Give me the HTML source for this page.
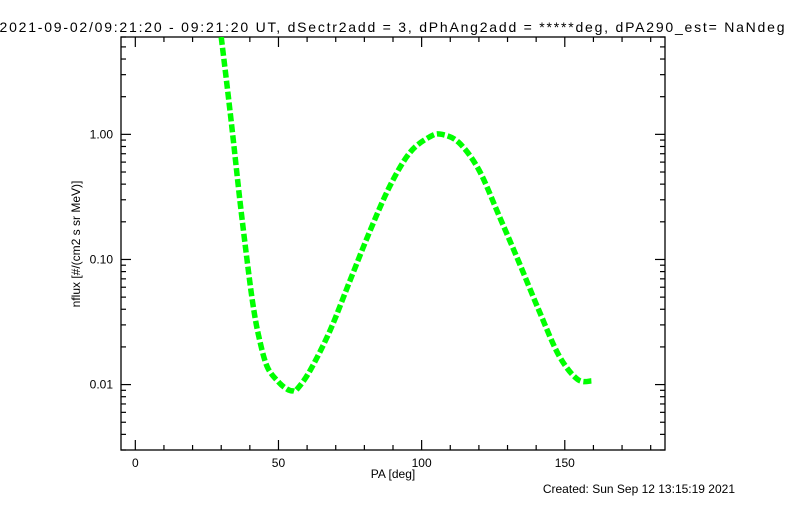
<!DOCTYPE html>
<html><head><meta charset="utf-8"><style>
body{margin:0;background:#fff;}
svg text{font-family:"Liberation Sans",sans-serif;fill:#000;}
</style></head><body>
<svg width="800" height="500" viewBox="0 0 800 500">
<text x="392" y="32" font-size="14" text-anchor="middle" textLength="785">2021-09-02/09:21:20 - 09:21:20 UT, dSectr2add = 3, dPhAng2add = *****deg, dPA290_est=  NaNdeg</text>
<rect x="121" y="37" width="544" height="413" fill="none" stroke="#000" stroke-width="1.3"/>
<g id="axes"></g>
<g id="series"></g>
<text x="393" y="478" font-size="12" text-anchor="middle">PA [deg]</text>
<text transform="translate(80,244) rotate(-90)" font-size="12" text-anchor="middle">nflux [#/(cm2 s sr MeV)]</text>
<text x="735" y="493" font-size="12" text-anchor="end">Created: Sun Sep 12 13:15:19 2021</text>
</svg>
<script>
const xTicks=[0,50,100,150];
const yTicks=[0.01,0.1,1];
const yTickLabels=["0.01","0.10","1.00"];
const paValues=[30,32,34,36.5,39,41,43,46,50,53,55,56.5,61,68,75,82,89,96,103,107,113,120,127,134,141,148,154.5,159.5];
const fluxValues=[6,2.5,1.0,0.30,0.10,0.045,0.025,0.014,0.0105,0.0092,0.0089,0.0092,0.0129,0.027,0.068,0.17,0.39,0.72,0.96,1.0,0.86,0.52,0.225,0.095,0.039,0.017,0.011,0.0107];
const L=121,R=665,T=37,B=450,X0=-5,X1=185,Y0=0.003,Y1=6;
const NS="http://www.w3.org/2000/svg";
function sx(v){return L+(v-X0)/(X1-X0)*(R-L);}
function sy(v){return B-(Math.log10(v)-Math.log10(Y0))/(Math.log10(Y1)-Math.log10(Y0))*(B-T);}
const ax=document.getElementById('axes');
function line(x1,y1,x2,y2,name){const l=document.createElementNS(NS,'line');
l.setAttribute('x1',x1);l.setAttribute('y1',y1);l.setAttribute('x2',x2);l.setAttribute('y2',y2);
l.setAttribute('stroke','#000');l.setAttribute('stroke-width','1.2');


ax.appendChild(l);}
for(let v=0;v<=180;v+=10){const x=sx(v);const len=(v%50===0)?10:5;
line(x,B,x,B-len,'x-tick');line(x,T,x,T+len,'x-tick');}
xTicks.forEach(v=>{const t=document.createElementNS(NS,'text');
t.setAttribute('x',sx(v));t.setAttribute('y',467);t.setAttribute('font-size','12');t.setAttribute('text-anchor','middle');


t.textContent=v;ax.appendChild(t);});
for(let d=-3;d<=0;d++){for(let m=1;m<=9;m++){const v=m*Math.pow(10,d);if(v<Y0||v>Y1)continue;
const y=sy(v);const len=m===1?10:5;line(L,y,L+len,y,'y-tick');line(R,y,R-len,y,'y-tick');}}
yTicks.forEach((v,i)=>{const t=document.createElementNS(NS,'text');
t.setAttribute('x',L-8);t.setAttribute('y',sy(v)+4);t.setAttribute('font-size','12');t.setAttribute('text-anchor','end');


t.textContent=yTickLabels[i];ax.appendChild(t);});
const p=document.createElementNS(NS,'path');
let d='';
for(let i=0;i<paValues.length;i++){const x=sx(paValues[i]),y=sy(fluxValues[i]);
if(i===0){d+='M'+x+','+y;}else{const xp=sx(paValues[i-1]),yp=sy(fluxValues[i-1]);
const xn=sx(paValues[Math.min(i+1,paValues.length-1)]),yn=sy(fluxValues[Math.min(i+1,paValues.length-1)]);
const xpp=sx(paValues[Math.max(i-2,0)]),ypp=sy(fluxValues[Math.max(i-2,0)]);
const c1x=xp+(x-xpp)/6,c1y=yp+(y-ypp)/6,c2x=x-(xn-xp)/6,c2y=y-(yn-yp)/6;
d+=' C'+c1x+','+c1y+' '+c2x+','+c2y+' '+x+','+y;}}
p.setAttribute('d',d);p.setAttribute('fill','none');p.setAttribute('stroke','#00ff00');
p.setAttribute('stroke-width','5.5');p.setAttribute('stroke-dasharray','8 3');p.setAttribute('stroke-linecap','butt');


const cp=document.createElementNS(NS,'clipPath');cp.setAttribute('id','clip');
const cr=document.createElementNS(NS,'rect');cr.setAttribute('x',L);cr.setAttribute('y',T);cr.setAttribute('width',R-L);cr.setAttribute('height',B-T);
cp.appendChild(cr);document.querySelector('svg').appendChild(cp);
const s=document.getElementById('series');s.setAttribute('clip-path','url(#clip)');s.appendChild(p);
</script>
</body></html>
